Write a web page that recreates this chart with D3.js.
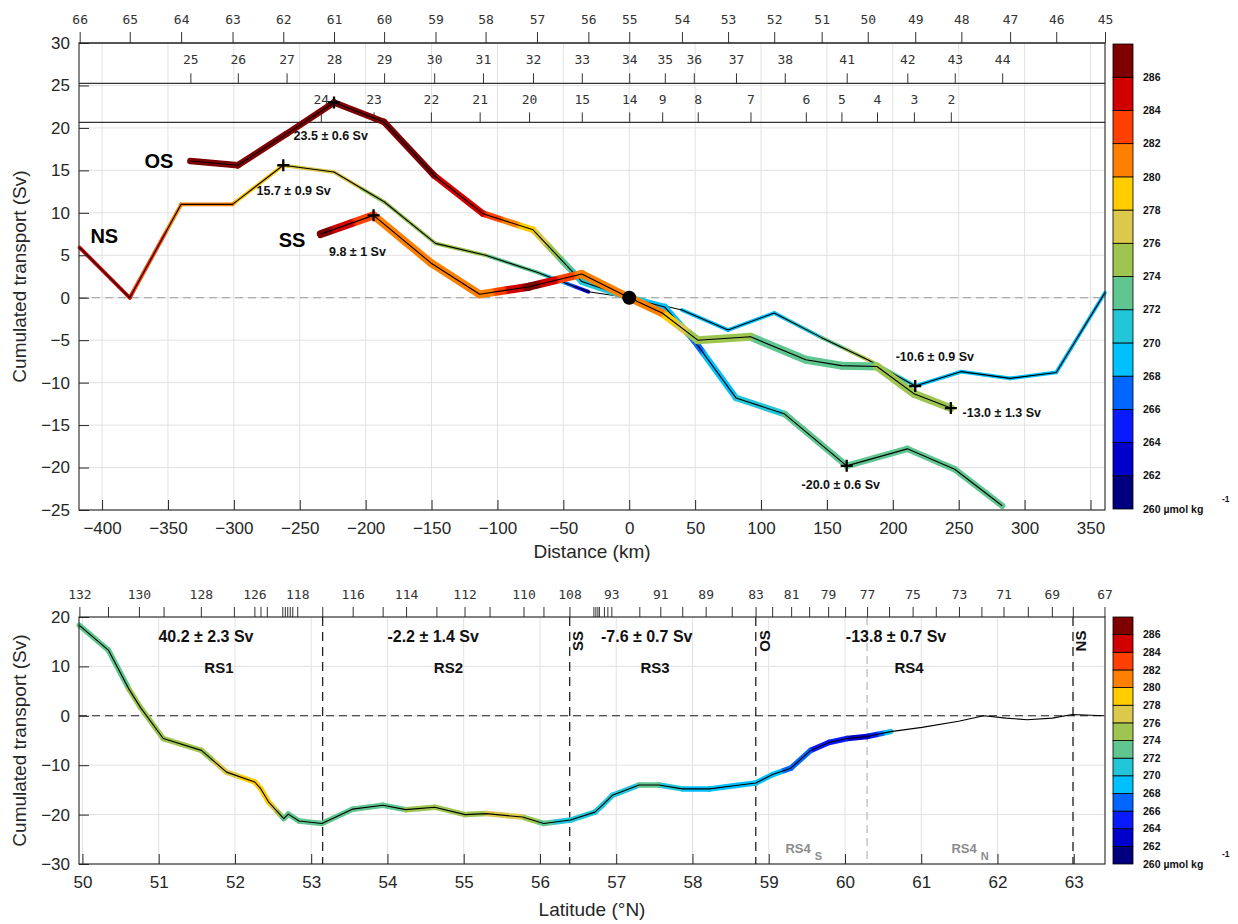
<!DOCTYPE html>
<html><head><meta charset="utf-8">
<script src="https://cdn.jsdelivr.net/npm/d3@7"></script>
<style>body{margin:0;background:#fff}svg{display:block}</style>
</head><body>
<svg id="c" width="1238" height="924"></svg>
<script>
// ---------------- DATA ----------------
// colour classes (µmol kg-1)
const colorEdges = [260,262,264,266,268,270,272,274,276,278,280,282,284,286,288];
const colorHex = ["#00007F","#0000CC","#0A1AFF","#0066FF","#00C0FF","#22C6D8","#60C690","#9DC550","#DCC84A","#FFCC00","#FF8000","#FF4000","#D10000","#7F0000"];

// top panel station rows (label, distance km)
const row1Labels = [66,65,64,63,62,61,60,59,58,57,56,55,54,53,52,51,50,49,48,47,46,45];
const row1Dist   = [-417,-379,-340,-301,-262.5,-224,-186,-147,-109,-70,-31,0,40,75,110,146,181,217,252,289,324,361];
const row2Labels = [25,26,27,28,29,30,31,32,33,34,35,36,37,38,41,42,43,44];
const row2Dist   = [-333,-297,-260,-224,-186,-148,-111,-73,-36,0,27,49,81,118,165,211,247,283];
const row3Labels = [24,23,22,21,20,15,14,9,8,7,6,5,4,3,2];
const row3Dist   = [-234,-194,-150.5,-113.5,-76,-36,0,25,52,92,134,161,188,216,244];

// NS line (stations of row 1)
const nsSv  = [5.9,0,11.0,11.0,15.6,14.8,11.3,6.4,5.0,3.0,0.7,0,-1.45,-3.8,-1.8,-4.7,-7.3,-10.4,-8.7,-9.5,-8.8,0.6];
const nsCol = [285,284,281,280,278,277,275,274,274,273,263,null,269.5,269.5,269.5,272,276,269.5,269,269.5,269.5,269.5];
// OS line (stations of row 2)
const osSv  = [16.1,15.6,19.3,23.0,20.7,14.4,9.9,8.0,1.9,0,-1.1,-5.0,-11.8,-13.7,-19.8,-17.8,-20.2,-24.5];
const osCol = [287,287,287,287,287,286,284,278,270.5,270.5,269,267.5,270,272,272,272,272,272];
// SS line (stations of row 3)
const ssSv  = [7.5,9.7,4.1,0.4,1.3,2.8,0,-1.8,-5.0,-4.6,-7.3,-8.0,-8.1,-11.3,-13.0];
const ssCol = [287,282,281,280,287,281,281,280,274,274,273,273,274,275,275];

// maxima / end values marked with "+"
const marks = [
  {line:"os", station:28, text:"23.5 ± 0.6 Sv", lx:-226.5, ly:19.05},
  {line:"ns", station:62, text:"15.7 ± 0.9 Sv", lx:-254.6, ly:12.57},
  {line:"ss", station:23, text:"9.8 ± 1 Sv",    lx:-206.2, ly:5.39},
  {line:"ns", station:49, text:"-10.6 ± 0.9 Sv", lx:231.9, ly:-6.95},
  {line:"ss", station:2,  text:"-13.0 ± 1.3 Sv", lx:282.7, ly:-13.46},
  {line:"os", station:41, text:"-20.0 ± 0.6 Sv", lx:160.5, ly:-21.94}
];
const sectionNames = [{t:"NS", x:-398.3, y:7.27},{t:"OS", x:-356.8, y:16.1},{t:"SS", x:-255.9, y:6.8}];

// bottom panel: cumulated transport along RS section
const botLat = [49.96,50.34,50.61,50.76,51.06,51.56,51.89,52.26,52.34,52.44,52.64,52.70,52.84,53.14,53.54,53.94,54.24,54.62,55.02,55.30,55.77,56.05,56.40,56.72,56.82,56.95,57.30,57.56,57.87,58.22,58.57,58.83,59.05,59.29,59.55,59.79,60.03,60.29,60.60,61.01,61.49,61.82,62.11,62.39,62.72,62.98,63.40];
const botSv  = [18.3,13.3,5.4,1.7,-4.6,-7.0,-11.4,-13.4,-14.8,-17.4,-20.8,-19.9,-21.3,-21.8,-18.9,-18.1,-19.0,-18.5,-20.0,-19.8,-20.5,-21.8,-21.1,-19.5,-18.1,-16.1,-14.0,-14.0,-14.8,-14.8,-14.1,-13.6,-11.9,-10.6,-7.0,-5.4,-4.6,-4.2,-3.2,-2.35,-1.1,0,-0.47,-0.8,-0.47,0.27,0];
const botCol = [272,273,274,274,274,275,277,279,279,279,273,272,272,272,272,273,274,274,275,276,276,273,270.5,270.5,270.5,270.5,272,272,270,269,269,270,269,267,266,265,264,263,270,null,null,null,null,null,null,null,null];

// bottom panel station ticks (latitude) and labels
const botStationLat = [49.96,50.335,50.741,51.064,51.553,51.986,52.255,52.335,52.418,52.621,52.654,52.686,52.719,52.752,52.817,53.145,53.544,53.937,54.244,54.642,55.011,55.339,55.784,56.046,56.387,56.701,56.727,56.753,56.773,56.839,56.884,56.936,57.303,57.578,57.866,58.173,58.515,58.828,59.045,59.294,59.530,59.779,60.002,60.290,60.578,60.887,61.191,61.495,61.789,62.079,62.398,62.713,62.988,63.403];
const botStationLabels = ["132","","130","","128","","126","","","","","","","","118","","116","","114","","112","","110","","108","","","","","","","93","","91","","89","","83","","81","","79","","77","","75","","73","","71","","69","","67"];

// section boundaries and box transports
const boundLat = [53.15, 56.39, 58.83, 62.99];
const boundNames = [{t:"SS", lat:56.50},{t:"OS", lat:58.95},{t:"NS", lat:63.09}];
const rs4SplitLat = 60.29;
const boxes = [
  {v:"40.2 ± 2.3 Sv", n:"RS1", vl:51.62, nl:51.79},
  {v:"-2.2 ± 1.4 Sv", n:"RS2", vl:54.60, nl:54.80},
  {v:"-7.6 ± 0.7 Sv", n:"RS3", vl:57.40, nl:57.51},
  {v:"-13.8 ± 0.7 Sv", n:"RS4", vl:60.67, nl:60.84}
];

// ---------------- DRAWING ----------------
const FONT = "'Liberation Sans', Arial, Helvetica, sans-serif";
const MONO = "'DejaVu Sans Mono', 'Liberation Mono', monospace";
const svg = d3.select("#c");
const defs = svg.append("defs");
const cScale = d3.scaleThreshold().domain(colorEdges.slice(1,-1)).range(colorHex);
let gid = 0;

function halo(g, xs, ys, cs, w, xS, yS){
  for(let i=0;i<xs.length-1;i++){
    if(cs[i]==null || cs[i+1]==null) continue;
    const x1=xS(xs[i]), y1=yS(ys[i]), x2=xS(xs[i+1]), y2=yS(ys[i+1]);
    const id="gr"+(gid++);
    const gr = defs.append("linearGradient").attr("id",id).attr("gradientUnits","userSpaceOnUse")
      .attr("x1",x1).attr("y1",y1).attr("x2",x2).attr("y2",y2);
    const n=12;
    for(let k=0;k<=n;k++){
      const t=k/n;
      gr.append("stop").attr("offset",t).attr("stop-color",cScale(cs[i]+t*(cs[i+1]-cs[i])));
    }
    g.append("line").attr("x1",x1).attr("y1",y1).attr("x2",x2).attr("y2",y2)
      .attr("stroke","url(#"+id+")").attr("stroke-width",w).attr("stroke-linecap","round");
  }
}
function blackLine(g, xs, ys, xS, yS, w){
  g.append("path").attr("d", d3.line().x((d,i)=>xS(xs[i])).y((d,i)=>yS(ys[i]))(xs))
    .attr("fill","none").attr("stroke","#000").attr("stroke-width",w||1.1).attr("stroke-linejoin","round");
}
function styleAxis(g, size){
  g.selectAll("text").attr("font-family",FONT).attr("font-size",size).attr("fill","#262626");
  g.selectAll("line").attr("stroke","#262626");
  g.select(".domain").remove();
}
function grid(g, xS, yS, xt, yt, box){
  g.selectAll(".gx").data(xt).enter().append("line").attr("x1",d=>xS(d)).attr("x2",d=>xS(d))
    .attr("y1",box.t).attr("y2",box.b).attr("stroke","#e2e2e2").attr("stroke-width",1);
  g.selectAll(".gy").data(yt).enter().append("line").attr("y1",d=>yS(d)).attr("y2",d=>yS(d))
    .attr("x1",box.l).attr("x2",box.r).attr("stroke","#e2e2e2").attr("stroke-width",1);
}
function colorbar(top, bottom){
  const x0=1113, w=20;
  const cy = d3.scaleLinear().domain([260,288]).range([bottom, top]);
  const g = svg.append("g");
  g.selectAll("rect").data(colorHex).enter().append("rect")
    .attr("x",x0).attr("width",w)
    .attr("y",(d,i)=>cy(colorEdges[i+1])).attr("height",(d,i)=>cy(colorEdges[i])-cy(colorEdges[i+1]))
    .attr("fill",d=>d).attr("stroke","#000").attr("stroke-width",0.8);
  g.selectAll("text.lab").data(colorEdges.slice(1,-1)).enter().append("text")
    .attr("x",x0+30).attr("y",d=>cy(d)).attr("dy","0.35em")
    .attr("font-family",FONT).attr("font-size",10.5).attr("font-weight","bold").attr("fill","#111")
    .text(d=>d);
  g.append("text").attr("x",x0+30).attr("y",cy(260)).attr("dy","0.35em")
    .attr("font-family",FONT).attr("font-size",10.5).attr("font-weight","bold").attr("fill","#111")
    .text("260 µmol kg");
  g.append("text").attr("x",1222).attr("y",cy(260)-7)
    .attr("font-family",FONT).attr("font-size",8.5).attr("font-weight","bold").attr("fill","#111").text("-1");
}

// ===== TOP PANEL =====
const T = {l:79, r:1105, t:43, b:510};
const xT = d3.scaleLinear().domain([-417.5, 361]).range([T.l, T.r]);
const yT = d3.scaleLinear().domain([-25, 30]).range([T.b, T.t]);
const xTicksT = d3.range(-400, 351, 50), yTicksT = d3.range(-25, 31, 5);
const gT = svg.append("g");
grid(gT, xT, yT, xTicksT, yTicksT, T);
gT.append("line").attr("x1",T.l).attr("x2",T.r).attr("y1",yT(0)).attr("y2",yT(0))
  .attr("stroke","#9a9a9a").attr("stroke-width",1.2).attr("stroke-dasharray","8,5");

// station rows
const rows = [
  {labels:row1Labels, dist:row1Dist, y:yT(30), size:11, pad:8},
  {labels:row2Labels, dist:row2Dist, y:yT(25.25), size:10, pad:9},
  {labels:row3Labels, dist:row3Dist, y:yT(20.65), size:10, pad:8}
];
rows.forEach(r=>{
  const m = new Map(r.dist.map((d,i)=>[d, r.labels[i]]));
  const g = gT.append("g").attr("transform",`translate(0,${r.y})`)
    .call(d3.axisTop(xT).tickValues(r.dist).tickSize(r.size).tickSizeOuter(0).tickPadding(r.pad).tickFormat(d=>m.get(d)));
  g.select(".domain").remove();
  g.selectAll("text").attr("font-family",MONO).attr("font-size",13).attr("fill","#333");
  g.selectAll("line").attr("stroke","#333");
  gT.append("line").attr("x1",T.l).attr("x2",T.r).attr("y1",r.y).attr("y2",r.y).attr("stroke","#333").attr("stroke-width",1.1);
});

// lines
const lines = {
  ns:{dist:row1Dist, sv:nsSv, col:nsCol, labels:row1Labels, w:3.8},
  os:{dist:row2Dist, sv:osSv, col:osCol, labels:row2Labels, w:6.5},
  ss:{dist:row3Dist, sv:ssSv, col:ssCol, labels:row3Labels, w:8}
};
["ns","os","ss"].forEach(k=>{
  const L = lines[k];
  const g = gT.append("g");
  halo(g, L.dist, L.sv, L.col, L.w, xT, yT);
  blackLine(g, L.dist, L.sv, xT, yT, 1.1);
});
gT.append("circle").attr("cx",xT(0)).attr("cy",yT(0)).attr("r",7).attr("fill","#000");

marks.forEach(m=>{
  const L = lines[m.line];
  const i = L.labels.indexOf(m.station);
  const px = xT(L.dist[i]), py = yT(L.sv[i]);
  gT.append("path").attr("d",`M${px-6},${py}H${px+6}M${px},${py-6}V${py+6}`)
    .attr("stroke","#000").attr("stroke-width",2.3);
  gT.append("text").attr("x",xT(m.lx)).attr("y",yT(m.ly)).attr("dy","0.36em").attr("text-anchor","middle")
    .attr("font-family",FONT).attr("font-size",12.5).attr("font-weight","bold").attr("fill","#111").text(m.text);
});
sectionNames.forEach(s=>{
  gT.append("text").attr("x",xT(s.x)).attr("y",yT(s.y)).attr("dy","0.36em").attr("text-anchor","middle")
    .attr("font-family",FONT).attr("font-size",20).attr("font-weight","bold").attr("fill","#000").text(s.t);
});

// axes
gT.append("g").attr("transform",`translate(0,${T.b})`)
  .call(d3.axisBottom(xT).tickValues(xTicksT).tickSize(-10).tickSizeOuter(0).tickPadding(12)).call(g=>styleAxis(g,17));
gT.append("g").attr("transform",`translate(${T.l},0)`)
  .call(d3.axisLeft(yT).tickValues(yTicksT).tickSize(-10).tickSizeOuter(0).tickPadding(9)).call(g=>styleAxis(g,17));
gT.append("rect").attr("x",T.l).attr("y",T.t).attr("width",T.r-T.l).attr("height",T.b-T.t)
  .attr("fill","none").attr("stroke","#262626").attr("stroke-width",1.1);
gT.append("text").attr("x",(T.l+T.r)/2).attr("y",558).attr("text-anchor","middle")
  .attr("font-family",FONT).attr("font-size",19).attr("fill","#262626").text("Distance (km)");
gT.append("text").attr("transform",`translate(26,${(T.t+T.b)/2}) rotate(-90)`).attr("text-anchor","middle")
  .attr("font-family",FONT).attr("font-size",19).attr("fill","#262626").text("Cumulated transport (Sv)");
colorbar(44, 509);

// ===== BOTTOM PANEL =====
const B = {l:79, r:1105, t:617, b:864};
const xB = d3.scaleLinear().domain([49.955, 63.41]).range([B.l, B.r]);
const yB = d3.scaleLinear().domain([-30, 20]).range([B.b, B.t]);
const xTicksB = d3.range(50, 64, 1), yTicksB = d3.range(-30, 21, 10);
const gB = svg.append("g");
grid(gB, xB, yB, xTicksB, yTicksB, B);
gB.append("line").attr("x1",B.l).attr("x2",B.r).attr("y1",yB(0)).attr("y2",yB(0))
  .attr("stroke","#222").attr("stroke-width",1.1).attr("stroke-dasharray","8,5");
gB.append("line").attr("x1",xB(rs4SplitLat)).attr("x2",xB(rs4SplitLat)).attr("y1",B.t).attr("y2",B.b)
  .attr("stroke","#bdbdbd").attr("stroke-width",1.3).attr("stroke-dasharray","8,5");
boundLat.forEach(l=>{
  gB.append("line").attr("x1",xB(l)).attr("x2",xB(l)).attr("y1",B.t).attr("y2",B.b)
    .attr("stroke","#222").attr("stroke-width",1.3).attr("stroke-dasharray","9,6");
});
halo(gB, botLat, botSv, botCol, 5.5, xB, yB);
blackLine(gB, botLat, botSv, xB, yB, 1.1);

boxes.forEach(b=>{
  gB.append("text").attr("x",xB(b.vl)).attr("y",636).attr("dy","0.36em").attr("text-anchor","middle")
    .attr("font-family",FONT).attr("font-size",16).attr("font-weight","bold").attr("fill","#111").text(b.v);
  gB.append("text").attr("x",xB(b.nl)).attr("y",668).attr("dy","0.36em").attr("text-anchor","middle")
    .attr("font-family",FONT).attr("font-size",15).attr("font-weight","bold").attr("fill","#111").text(b.n);
});
boundNames.forEach(b=>{
  gB.append("text").attr("transform",`translate(${xB(b.lat)},641) rotate(-90)`).attr("dy","0.36em")
    .attr("text-anchor","middle").attr("font-family",FONT).attr("font-size",15).attr("font-weight","bold")
    .attr("fill","#111").text(b.t);
});
[{lat:59.46, s:"S"},{lat:61.64, s:"N"}].forEach(r=>{
  const t = gB.append("text").attr("x",xB(r.lat)).attr("y",yB(-26.76)).attr("dy","0.36em").attr("text-anchor","middle")
    .attr("font-family",FONT).attr("font-size",13).attr("font-weight","bold").attr("fill","#8c8c8c");
  t.append("tspan").text("RS4");
  t.append("tspan").attr("dx",4).attr("dy",7).attr("font-size",11).text(r.s);
});

const labMap = new Map(botStationLat.map((d,i)=>[d, botStationLabels[i]]));
gB.append("g").attr("transform",`translate(0,${B.t})`)
  .call(d3.axisTop(xB).tickValues(botStationLat).tickSize(10).tickSizeOuter(0).tickPadding(8).tickFormat(d=>labMap.get(d)))
  .call(g=>{g.select(".domain").remove(); g.selectAll("text").attr("font-family",MONO).attr("font-size",13).attr("fill","#333"); g.selectAll("line").attr("stroke","#333");});
gB.append("g").attr("transform",`translate(0,${B.b})`)
  .call(d3.axisBottom(xB).tickValues(xTicksB).tickSize(-10).tickSizeOuter(0).tickPadding(12).tickFormat(d3.format("d"))).call(g=>styleAxis(g,17));
gB.append("g").attr("transform",`translate(${B.l},0)`)
  .call(d3.axisLeft(yB).tickValues(yTicksB).tickSize(-10).tickSizeOuter(0).tickPadding(9)).call(g=>styleAxis(g,17));
gB.append("rect").attr("x",B.l).attr("y",B.t).attr("width",B.r-B.l).attr("height",B.b-B.t)
  .attr("fill","none").attr("stroke","#262626").attr("stroke-width",1.1);
gB.append("text").attr("x",(B.l+B.r)/2).attr("y",916).attr("text-anchor","middle")
  .attr("font-family",FONT).attr("font-size",19).attr("fill","#262626").text("Latitude (°N)");
gB.append("text").attr("transform",`translate(26,${(B.t+B.b)/2}) rotate(-90)`).attr("text-anchor","middle")
  .attr("font-family",FONT).attr("font-size",19).attr("fill","#262626").text("Cumulated transport (Sv)");
colorbar(617, 864);
</script>
</body></html>
